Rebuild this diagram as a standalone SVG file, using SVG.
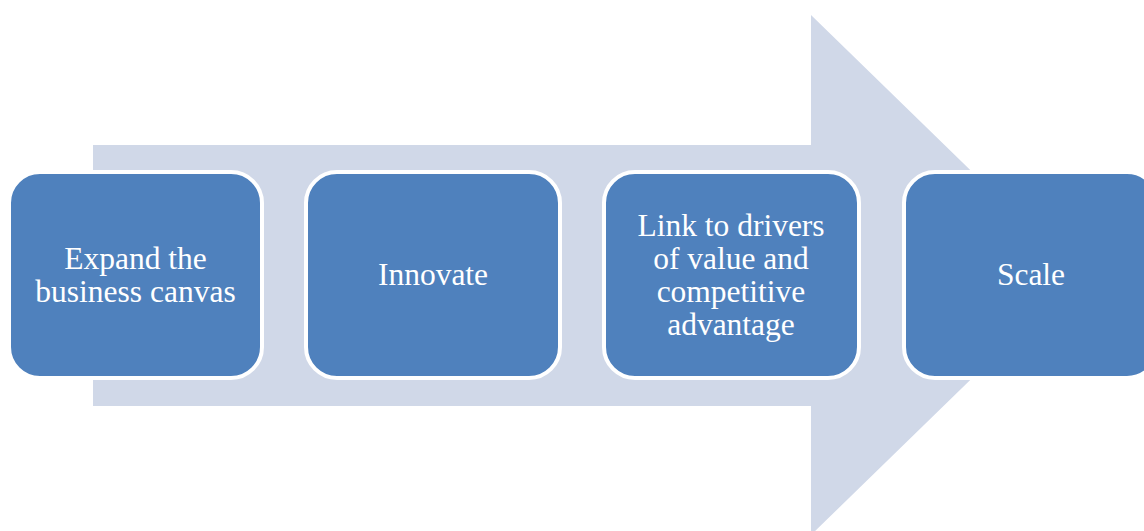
<svg xmlns="http://www.w3.org/2000/svg" width="1144" height="531" viewBox="0 0 1144 531">
<style>
.box{fill:#4F81BD;stroke:#FFFFFF;stroke-width:4}
.lbl{font-family:"Liberation Serif","Times New Roman",serif;font-size:31.5px;fill:#FFFFFF;text-anchor:middle}
</style>
<rect width="1144" height="531" fill="#FFFFFF"/>
<g id="connectors">
<path d="M93,145 L811,145 L811,15 L1078,275 L811,535 L811,406 L93,406 Z" fill="#D0D8E8"/>
</g>
<g id="node1">
<rect class="box" x="9" y="172" width="253" height="206" rx="31" ry="31"/>
<text class="lbl" x="135.5" y="268.5">Expand the</text>
<text class="lbl" x="135.5" y="301.5">business canvas</text>
</g>
<g id="node2">
<rect class="box" x="306" y="172" width="254" height="206" rx="31" ry="31"/>
<text class="lbl" x="433" y="285">Innovate</text>
</g>
<g id="node3">
<rect class="box" x="604" y="172" width="255" height="206" rx="31" ry="31"/>
<text class="lbl" x="731" y="235.5">Link to drivers</text>
<text class="lbl" x="731" y="268.5">of value and</text>
<text class="lbl" x="731" y="301.5">competitive</text>
<text class="lbl" x="731" y="334.5">advantage</text>
</g>
<g id="node4">
<rect class="box" x="904" y="172" width="254" height="206" rx="31" ry="31"/>
<text class="lbl" x="1031" y="285">Scale</text>
</g>
</svg>
